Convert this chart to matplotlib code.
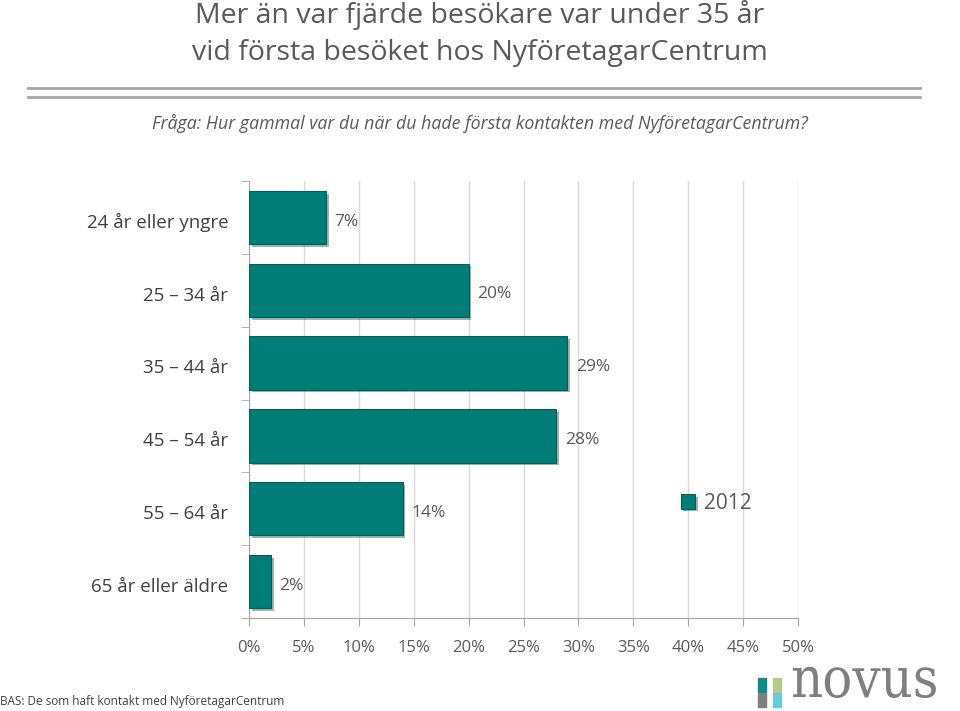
import numpy as np
import matplotlib.pyplot as plt
from matplotlib import patheffects as pe
from matplotlib.patches import Rectangle
from matplotlib.lines import Line2D

kategorier = ["24 år eller yngre", "25 \u2013 34 år", "35 \u2013 44 år",
              "45 \u2013 54 år", "55 \u2013 64 år", "65 år eller äldre"]
andel = [7, 20, 29, 28, 14, 2]
ticks = [0, 5, 10, 15, 20, 25, 30, 35, 40, 45, 50]
serie = "2012"

teal = "#007D76"
grey = "#595959"
plt.rcParams["font.family"] = ["Open Sans", "DejaVu Sans"]

fig = plt.figure(figsize=(9.6, 7.11), dpi=100)
ax = fig.add_axes([249 / 960, 1 - 618 / 711, 549 / 960, 437 / 711])

y = np.arange(len(kategorier))
bars = ax.barh(y, andel, height=0.73, color=teal, edgecolor="#00625C", linewidth=0.8,
               zorder=3, label=serie)
for b in bars:
    b.set_path_effects([pe.SimplePatchShadow(offset=(2, -2), shadow_rgbFace="#5a4a44", alpha=0.45),
                        pe.Normal()])
for yi, v in zip(y, andel):
    ax.annotate(f"{v}%", (v, yi), xytext=(6, -3), textcoords="offset points",
                va="center", ha="left", fontsize=12.5, color=grey)

ax.set_ylim(len(kategorier) - 0.5, -0.5)
ax.set_xlim(0, 50)
# etiketterna sitter lite under radens mitt, som i originalet
ax.set_yticks(y + 0.045)
ax.set_yticklabels(kategorier, fontsize=13.5, color="#404040")
ax.set_yticks(np.arange(-0.5, len(kategorier)), minor=True)
ax.tick_params(axis="y", which="major", length=0, pad=15)
ax.tick_params(axis="y", which="minor", length=6, color="#A6A6A6")
ax.set_xticks(ticks)
ax.set_xticklabels([f"{t}%" for t in ticks], fontsize=12, color=grey)
ax.tick_params(axis="x", length=6, color="#A6A6A6", pad=10)
ax.grid(axis="x", color="#D9D9D9", linewidth=1, zorder=0)
for s in ["top", "right"]:
    ax.spines[s].set_visible(False)
for s in ["left", "bottom"]:
    ax.spines[s].set_color("#A6A6A6")

leg = ax.legend(loc="upper left", bbox_to_anchor=(0.752, 0.33), frameon=False, fontsize=15,
                handlelength=0.7, handleheight=0.7, handletextpad=0.4, labelcolor=grey)

fig.text(0.5, 1 - 15 / 711, "Mer än var fjärde besökare var under 35 år", ha="center", va="center",
         fontsize=20.5, color=grey)
fig.text(0.5, 1 - 53 / 711, "vid första besöket hos NyföretagarCentrum", ha="center", va="center",
         fontsize=20.5, color=grey)
fig.add_artist(Line2D([28 / 960, 920 / 960], [1 - 88 / 711] * 2, color="#A6A6A6", lw=2))
fig.add_artist(Line2D([28 / 960, 920 / 960], [1 - 97 / 711] * 2, color="#A6A6A6", lw=2))
fig.text(0.5, 1 - 123 / 711, "Fråga: Hur gammal var du när du hade första kontakten med NyföretagarCentrum?",
         ha="center", va="center", fontsize=12.8, style="italic", color=grey)
fig.text(0.0, 1 - 702 / 711, "BAS: De som haft kontakt med NyföretagarCentrum", ha="left", va="center",
         fontsize=8.5, color="#404040")

# logotyp
for x0, y0, c in [(758, 678, "#0F8C87"), (773, 678, "#B5C98E"), (758, 693, "#7F7F7F"), (773, 693, "#66CCD6")]:
    fig.add_artist(Rectangle((x0 / 960, 1 - (y0 + 14) / 711), 8 / 960, 14 / 711,
                             transform=fig.transFigure, color=c))
fig.text(790 / 960, 1 - 697 / 711, "novus", ha="left", va="baseline", fontsize=40,
         family="DejaVu Serif", stretch="condensed", color="#7F7F7F")

fig.savefig("out.png", dpi=100)
